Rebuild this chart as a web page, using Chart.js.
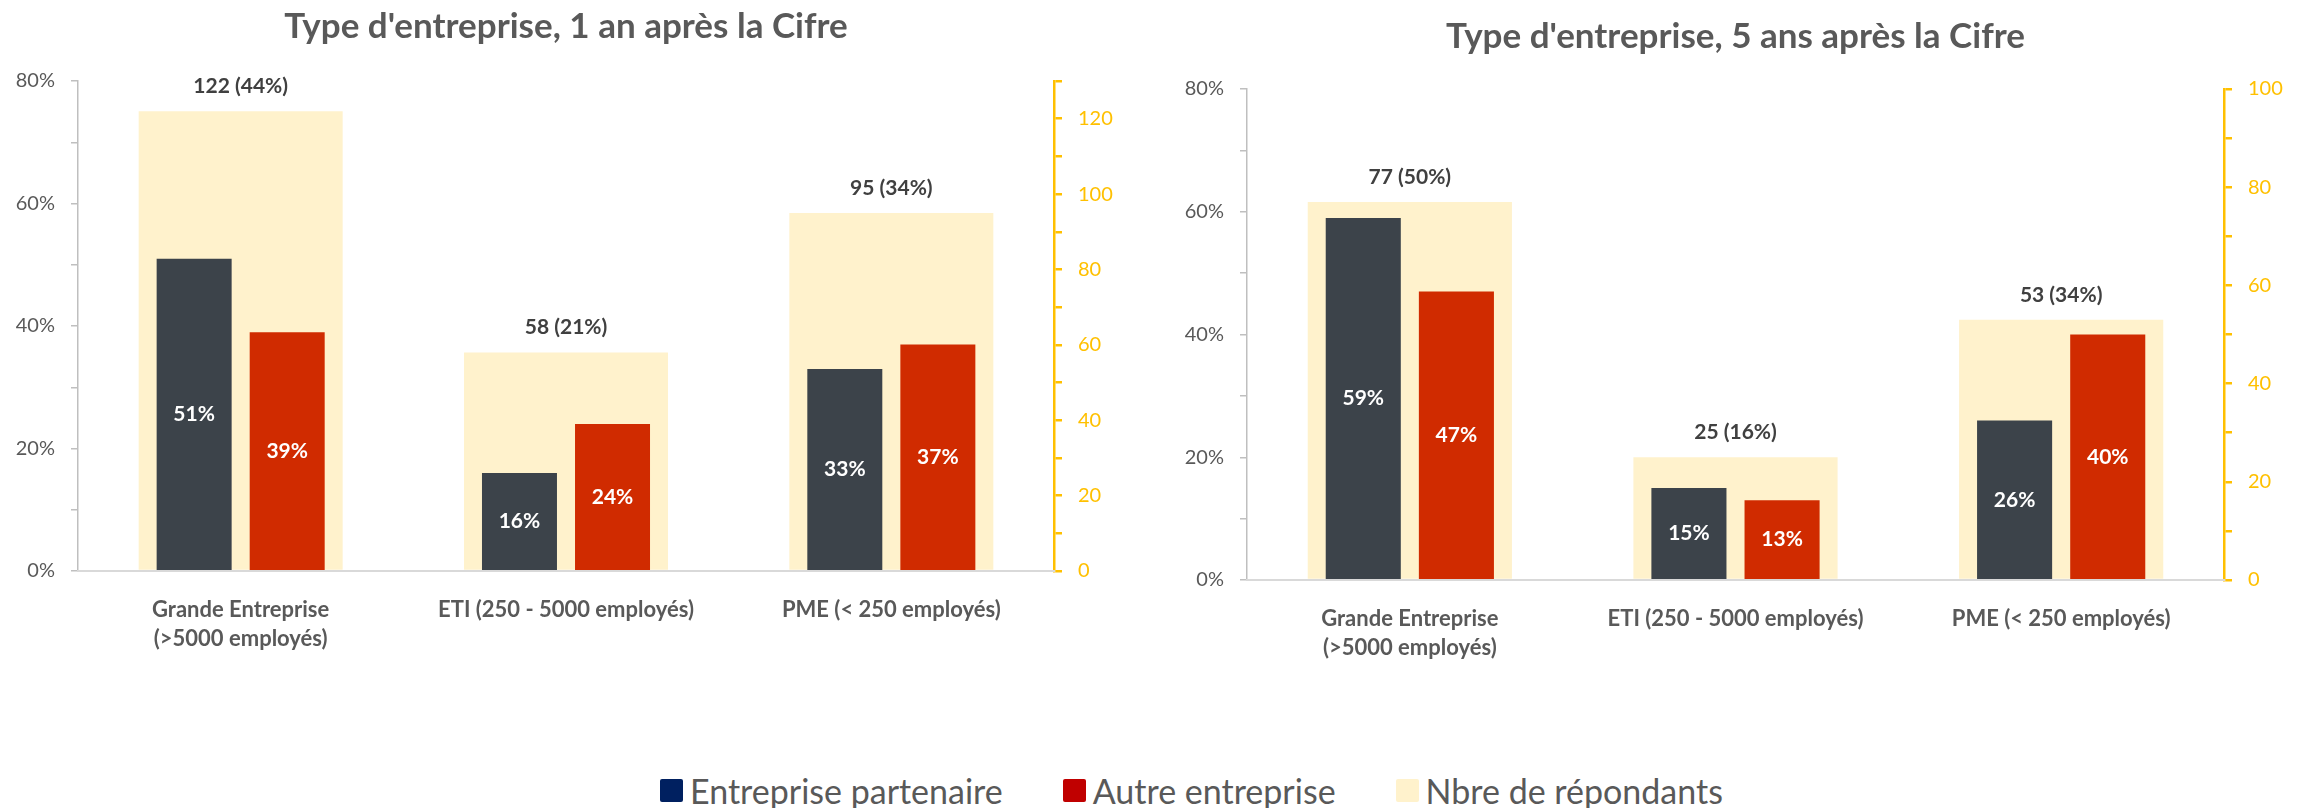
<!DOCTYPE html>
<html>
<head>
<meta charset="utf-8">
<script src="https://cdn.jsdelivr.net/npm/chart.js@4.4.1/dist/chart.umd.min.js"></script>
<style>
  body { margin: 0; background: #fff; width: 2310px; height: 808px; position: relative; overflow: hidden; font-family: Lato, sans-serif; }
  canvas { position: absolute; top: 0; }
  #chart1 { left: 0; }
  #chart5 { left: 1150px; }
  #legend { position: absolute; left: 660px; top: 770px; display: flex; align-items: center; color: #595959; font-size: 34px; }
  #legend .item { display: flex; align-items: center; margin-right: 60px; }
  #legend .box { width: 23px; height: 23px; border-radius: 2px; margin-right: 7px; }
</style>
</head>
<body>
<canvas id="chart1" width="1150" height="700"></canvas>
<canvas id="chart5" width="1160" height="700"></canvas>
<div id="legend"></div>
<script>
// Data
const categories = [['Grande Entreprise', '(>5000 employés)'], 'ETI (250 - 5000 employés)', 'PME (< 250 employés)'];
const seriesNames = ['Entreprise partenaire', 'Autre entreprise', 'Nbre de répondants'];
const legendColors = ['#002060', '#C00000', '#FFF2CC'];

// 1 an après
const partner1 = [51, 16, 33];
const other1 = [39, 24, 37];
const respondents1 = [122, 58, 95];
const share1 = [44, 21, 34];

// 5 ans après
const partner5 = [59, 15, 26];
const other5 = [47, 13, 40];
const respondents5 = [77, 25, 53];
const share5 = [50, 16, 34];

// axes
const pctTicks = [0, 20, 40, 60, 80];
const countTicks1 = [0, 20, 40, 60, 80, 100, 120];
const countTicks5 = [0, 20, 40, 60, 80, 100];
const countMax1 = 130;
const countMax5 = 100;

const darkColor = '#3C434A';
const redColor = '#D02B00';
const yellowColor = '#FFF2CC';
const gold = '#FFC000';
const gray = '#595959';

Chart.defaults.font.family = 'Lato';

// draws value labels on the bars
const barLabels = {
  id: 'barLabels',
  afterDatasetsDraw(chart) {
    const ctx = chart.ctx;
    ctx.save();
    ctx.textAlign = 'center';
    ctx.textBaseline = 'middle';
    chart.data.datasets.forEach((ds, i) => {
      const meta = chart.getDatasetMeta(i);
      meta.data.forEach((bar, j) => {
        if (ds.shares) {
          ctx.font = 'bold 21px Lato';
          ctx.fillStyle = '#404040';
          ctx.fillText(ds.data[j] + ' (' + ds.shares[j] + '%)', bar.x, bar.y - 25);
        } else {
          ctx.font = 'bold 21px Lato';
          ctx.fillStyle = '#ffffff';
          ctx.fillText(ds.data[j] + '%', bar.x, (bar.y + bar.base) / 2);
        }
      });
    });
    ctx.restore();
  }
};

function makeChart(id, title, partner, other, respondents, shares, countTicks, countMax, sizes) {
  const ctx = document.getElementById(id).getContext('2d');
  return new Chart(ctx, {
    type: 'bar',
    data: {
      labels: categories,
      datasets: [
        {
          label: seriesNames[0],
          data: partner,
          yAxisID: 'y',
          backgroundColor: darkColor,
          categoryPercentage: 0.572,
          barPercentage: 0.806,
          order: 1
        },
        {
          label: seriesNames[1],
          data: other,
          yAxisID: 'y',
          backgroundColor: redColor,
          categoryPercentage: 0.572,
          barPercentage: 0.806,
          order: 2
        },
        {
          label: seriesNames[2],
          data: respondents,
          shares: shares,
          yAxisID: 'y1',
          backgroundColor: yellowColor,
          grouped: false,
          categoryPercentage: 0.627,
          barPercentage: 1,
          order: 3
        }
      ]
    },
    options: {
      responsive: false,
      animation: false,
      devicePixelRatio: 1,
      layout: { padding: 0 },
      plugins: {
        legend: { display: false },
        tooltip: { enabled: false },
        title: {
          display: true,
          text: title,
          fullSize: false,
          color: gray,
          font: { size: 35, weight: 'bold' },
          padding: { top: sizes.titleTop, bottom: sizes.titleBottom }
        }
      },
      scales: {
        x: {
          type: 'category',
          grid: { display: false },
          border: { display: true, color: '#D9D9D9', width: 2, z: 1 },
          ticks: {
            color: gray,
            font: { size: 22, weight: 'bold', lineHeight: 1.32 },
            padding: 16,
            maxRotation: 0,
            autoSkip: false
          },
          afterFit: (scale) => { scale.height = sizes.xHeight; }
        },
        y: {
          position: 'left',
          min: 0,
          max: pctTicks[pctTicks.length - 1],
          grid: { drawOnChartArea: false, drawTicks: true, tickLength: 7, color: '#BFBFBF', lineWidth: 1.5 },
          border: { display: true, color: '#BFBFBF', width: 1.5 },
          ticks: {
            stepSize: 10,
            color: gray,
            font: { size: 20 },
            padding: 16,
            callback: (v) => pctTicks.includes(v) ? v + '%' : ''
          },
          afterFit: (scale) => { scale.width = sizes.leftWidth; }
        },
        y1: {
          position: 'right',
          min: 0,
          max: countMax,
          grid: { drawOnChartArea: false, drawTicks: true, tickLength: 8, color: gold, lineWidth: 2.5 },
          border: { display: true, color: gold, width: 2.5 },
          ticks: {
            stepSize: 10,
            color: gold,
            font: { size: 20 },
            padding: 16,
            callback: (v) => countTicks.includes(v) ? String(v) : ''
          },
          afterFit: (scale) => { scale.width = sizes.rightWidth; }
        }
      }
    },
    plugins: [barLabels]
  });
}

makeChart('chart1', "Type d'entreprise, 1 an après la Cifre", partner1, other1, respondents1, share1, countTicks1, countMax1,
  { titleTop: 6, titleBottom: 33, xHeight: 129, leftWidth: 78, rightWidth: 96 });
makeChart('chart5', "Type d'entreprise, 5 ans après la Cifre", partner5, other5, respondents5, share5, countTicks5, countMax5,
  { titleTop: 16, titleBottom: 31, xHeight: 120, leftWidth: 97, rightWidth: 86 });

// legend
const legendEl = document.getElementById('legend');
seriesNames.forEach((name, i) => {
  const item = document.createElement('div');
  item.className = 'item';
  const box = document.createElement('span');
  box.className = 'box';
  box.style.background = legendColors[i];
  const txt = document.createElement('span');
  txt.textContent = name;
  item.appendChild(box);
  item.appendChild(txt);
  legendEl.appendChild(item);
});
</script>
</body>
</html>
